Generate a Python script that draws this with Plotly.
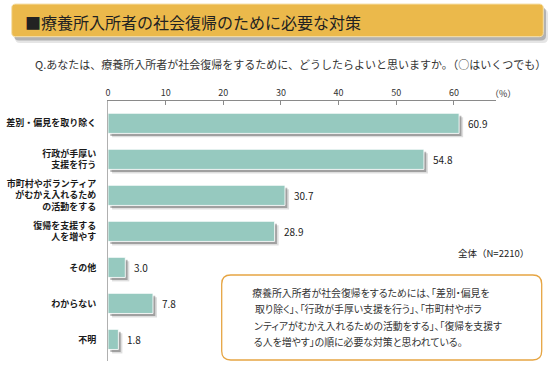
import plotly.graph_objects as go

# ---- data ----
categories = [
    "差別・偏見を取り除く",
    "行政が手厚い<br>支援を行う",
    "市町村やボランティア<br>がむかえ入れるため<br>の活動をする",
    "復帰を支援する<br>人を増やす",
    "その他",
    "わからない",
    "不明",
]
values = [60.9, 54.8, 30.7, 28.9, 3.0, 7.8, 1.8]
x_ticks = [0, 10, 20, 30, 40, 50, 60]

title_text = "■療養所入所者の社会復帰のために必要な対策"
question_text = "Q.あなたは、療養所入所者が社会復帰をするために、どうしたらよいと思いますか。（○はいくつでも）"
n_text = "全体（N=2210）"
unit_text = "（%）"
note_lines = [
    "療養所入所者が社会復帰をするためには、「差別・偏見を",
    "取り除く」、「行政が手厚い支援を行う」、「市町村やボラ",
    "ンティアがむかえ入れるための活動をする」、「復帰を支援す",
    "る人を増やす」の順に必要な対策と思われている。",
]

FONT = "Noto Sans CJK JP"
BAR = "#96C9BF"

W, H = 557, 370
PL, PR, PT, PB = 108, 496, 101, 361


def px(x):
    return (x - PL) / (PR - PL)


def py(y):
    return (PB - y) / (PB - PT)


def rrect(x0, y0, x1, y1, r):
    pts = [
        ("M", [(x0 + r, y0)]),
        ("L", [(x1 - r, y0)]),
        ("Q", [(x1, y0), (x1, y0 + r)]),
        ("L", [(x1, y1 - r)]),
        ("Q", [(x1, y1), (x1 - r, y1)]),
        ("L", [(x0 + r, y1)]),
        ("Q", [(x0, y1), (x0, y1 - r)]),
        ("L", [(x0, y0 + r)]),
        ("Q", [(x0, y0), (x0 + r, y0)]),
    ]
    s = ""
    for cmd, ps in pts:
        s += cmd + " " + " ".join(f"{px(a):.5f},{py(b):.5f}" for a, b in ps) + " "
    return s + "Z"


fig = go.Figure()

BW = 0.56
# shadows
fig.add_trace(go.Bar(
    y=categories, x=values, base=0.7, orientation="h",
    width=BW, offset=-BW / 2 + 0.11,
    marker=dict(color="rgba(0,0,0,0.13)", line=dict(width=0)),
    hoverinfo="skip", showlegend=False,
))
fig.add_trace(go.Bar(
    y=categories, x=values, base=0.4, orientation="h",
    width=BW, offset=-BW / 2 + 0.07,
    marker=dict(color="rgba(0,0,0,0.28)", line=dict(width=0)),
    hoverinfo="skip", showlegend=False,
))
# main bars
fig.add_trace(go.Bar(
    y=categories, x=values, orientation="h",
    width=BW, offset=-BW / 2,
    marker=dict(color=BAR, line=dict(width=1, color="rgba(255,255,255,0.85)")),
    hoverinfo="skip", showlegend=False,
))

annotations = []
for c, v in zip(categories, values):
    annotations.append(dict(
        x=v, y=c, xref="x", yref="y", text=f"{v:.1f}", showarrow=False,
        xanchor="left", yanchor="middle", xshift=7, yshift=0,
        font=dict(family=FONT, size=10, color="#222"),
    ))

annotations += [
    dict(x=px(23), y=py(21.5), xref="paper", yref="paper", text=title_text,
         showarrow=False, xanchor="left", yanchor="middle",
         font=dict(family=FONT, size=16, color="#222")),
    dict(x=px(33), y=py(64), xref="paper", yref="paper", text=question_text,
         showarrow=False, xanchor="left", yanchor="middle",
         font=dict(family=FONT, size=11, color="#333")),
    dict(x=px(503), y=py(93), xref="paper", yref="paper", text=unit_text,
         showarrow=False, xanchor="center", yanchor="middle",
         font=dict(family=FONT, size=9, color="#333")),
    dict(x=px(531), y=py(253), xref="paper", yref="paper", text=n_text,
         showarrow=False, xanchor="right", yanchor="middle",
         font=dict(family=FONT, size=9.5, color="#222")),
]
line_y = [292.5, 309, 325.5, 342]
for t, yy in zip(note_lines, line_y):
    annotations.append(dict(
        x=px(243), y=py(yy), xref="paper", yref="paper", text=t,
        showarrow=False, xanchor="left", yanchor="middle",
        font=dict(family=FONT, size=9.9, color="#333"),
    ))

shapes = [
    # banner shadow
    dict(type="path", path=rrect(15, 9, 548, 43, 5), xref="paper", yref="paper",
         fillcolor="rgba(0,0,0,0.10)", line=dict(width=0), layer="below"),
    dict(type="path", path=rrect(14, 7, 546, 40.5, 5), xref="paper", yref="paper",
         fillcolor="rgba(0,0,0,0.22)", line=dict(width=0), layer="below"),
    # banner
    dict(type="path", path=rrect(11.7, 4, 543.3, 36.7, 4), xref="paper", yref="paper",
         fillcolor="#EBB94B", line=dict(width=1, color="#F6E2B0"), layer="below"),
    # note box
    dict(type="path", path=rrect(221.7, 275, 541.7, 360, 9), xref="paper", yref="paper",
         fillcolor="white", line=dict(width=1.3, color="#E6A543"), layer="above"),
]

fig.update_layout(
    width=W, height=H,
    margin=dict(l=PL, r=W - PR, t=PT, b=H - PB, pad=0, autoexpand=False),
    paper_bgcolor="white", plot_bgcolor="white",
    barmode="overlay",
    showlegend=False,
    annotations=annotations,
    shapes=shapes,
    xaxis=dict(
        side="top", range=[0, 67.3], tickvals=x_ticks,
        ticktext=[str(t) for t in x_ticks],
        showgrid=False, zeroline=False, automargin=False,
        showline=True, linecolor="#8a8a8a", linewidth=1,
        ticks="inside", ticklen=4, tickcolor="#8a8a8a",
        tickfont=dict(family=FONT, size=9, color="#333"),
        fixedrange=True,
    ),
    yaxis=dict(
        type="category", categoryorder="array", categoryarray=categories,
        range=[6.6, -0.62], automargin=False,
        showgrid=False, zeroline=False,
        showline=True, linecolor="#b0b0b0", linewidth=1,
        ticks="", ticklabelstandoff=9,
        tickfont=dict(family=FONT, size=9, color="#1a1a1a", weight="bold"),
        fixedrange=True,
    ),
)

post = (
    "document.body.style.margin='0';document.body.style.overflow='hidden';"
    "document.querySelectorAll('text.annotation-text').forEach(function(e){"
    "if(e.style.fontSize==='9.9px'){e.style.fontFeatureSettings='\"palt\"';}});"
)

fig.write_html(
    "out.html",
    config={"displayModeBar": False},
    post_script=post,
)
